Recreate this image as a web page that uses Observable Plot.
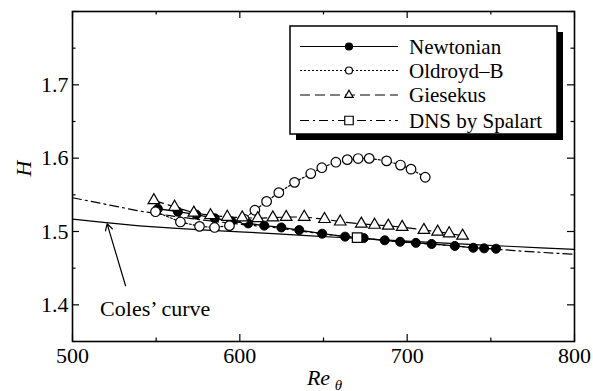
<!DOCTYPE html>
<html><head><meta charset="utf-8">
<script src="https://cdn.jsdelivr.net/npm/d3@7"></script>
<script src="https://cdn.jsdelivr.net/npm/@observablehq/plot@0.6"></script>
<style>body{margin:0;background:#fff}</style>
</head><body><div id="chart"></div>
<script>
// ---- data ----
const newtonianRe = [551, 563, 574, 585, 595, 605, 614.6, 624.8, 635.5, 649.2, 662.9, 674, 686.6, 695.8, 705.2, 714.6, 728.5, 739.5, 746, 753.1];
const newtonianH  = [1.531, 1.527, 1.523, 1.518, 1.514, 1.511, 1.508, 1.5055, 1.502, 1.497, 1.493, 1.491, 1.488, 1.486, 1.4845, 1.483, 1.4803, 1.4778, 1.477, 1.4765];

const oldroydRe = [549.6, 564.5, 575.9, 584.9, 593.8, 602.5, 609, 616, 623.3, 632.7, 642.4, 649, 657.4, 664.2, 670.7, 677.3, 687.7, 696, 702.3, 710.8];
const oldroydH  = [1.527, 1.513, 1.507, 1.5055, 1.508, 1.517, 1.529, 1.541, 1.553, 1.567, 1.579, 1.587, 1.5945, 1.598, 1.5995, 1.5997, 1.5963, 1.5906, 1.585, 1.574];

const giesekusRe = [548.6, 561, 572.5, 582.5, 592.5, 601.4, 610.7, 619.7, 627.7, 638.5, 650.6, 660, 672.6, 680.5, 688.7, 697, 710, 718.2, 725.1, 733.1];
const giesekusH  = [1.5425, 1.5335, 1.5255, 1.522, 1.5198, 1.519, 1.518, 1.519, 1.5197, 1.5198, 1.5168, 1.5134, 1.5105, 1.509, 1.5078, 1.506, 1.502, 1.4996, 1.4973, 1.4941];

const dnsRe = [500, 520, 540, 560, 580, 600, 620, 640, 660, 670, 690, 710, 730, 750, 770, 800];
const dnsH  = [1.546, 1.537, 1.528, 1.521, 1.515, 1.510, 1.5055, 1.4995, 1.494, 1.4915, 1.487, 1.4835, 1.480, 1.4765, 1.473, 1.4688];
const dnsMarkerRe = [670.1];
const dnsMarkerH  = [1.4917];

const colesRe = [500, 520, 540, 560, 580, 600, 620, 640, 660, 680, 700, 720, 740, 760, 780, 800];
const colesH  = [1.5168, 1.512, 1.5078, 1.5045, 1.502, 1.4996, 1.497, 1.4944, 1.4918, 1.4894, 1.487, 1.4846, 1.4822, 1.4799, 1.4777, 1.4755];

const colesArrow = [{x1: 531.7, y1: 1.426, x2: 520.7, y2: 1.5105}];
const colesLabel = [{x: 516.5, y: 1.395, text: "Coles\u2019 curve"}];

const xMajor = [500, 600, 700, 800];
const xMinor = [550, 650, 750];
const yMajor = [1.4, 1.5, 1.6, 1.7, 1.8];
const yLabels = [1.4, 1.5, 1.6, 1.7];
const yMinor = [1.45, 1.55, 1.65, 1.75];

const seriesNames = ["Newtonian", "Oldroyd\u2013B", "Giesekus", "DNS by Spalart"];

// ---- build ----
const rows = (xs, ys) => xs.map((x, i) => ({x, y: ys[i]}));
const newtonian = rows(newtonianRe, newtonianH);
const oldroyd = rows(oldroydRe, oldroydH);
const giesekus = rows(giesekusRe, giesekusH);
const dns = rows(dnsRe, dnsH);
const dnsMarker = rows(dnsMarkerRe, dnsMarkerH);
const coles = rows(colesRe, colesH);

const W = 593, H = 391, mT = 11, mB = 50, mL = 72, mR = 19;
const innerH = H - mT - mB, innerW = W - mL - mR;
const FONT = "'Liberation Serif', 'Times New Roman', Times, serif";

const dashes = {
  newtonian: null,
  oldroyd: "2,2",
  giesekus: "10,5",
  dns: "9,4,2,4"
};

const svg = Plot.plot({
  width: W, height: H,
  marginTop: mT, marginBottom: mB, marginLeft: mL, marginRight: mR,
  style: {fontFamily: FONT, fontSize: "22px", background: "white", color: "black", overflow: "visible"},
  x: {domain: [500, 800]},
  y: {domain: [1.35, 1.8]},
  marks: [
    Plot.line(coles, {x: "x", y: "y", stroke: "black", strokeWidth: 1.2}),
    Plot.line(dns, {x: "x", y: "y", stroke: "black", strokeWidth: 1.2, strokeDasharray: dashes.dns}),
    Plot.line(newtonian, {x: "x", y: "y", stroke: "black", strokeWidth: 1.3}),
    Plot.line(oldroyd, {x: "x", y: "y", stroke: "black", strokeWidth: 1.2, strokeDasharray: dashes.oldroyd}),
    Plot.line(giesekus, {x: "x", y: "y", stroke: "black", strokeWidth: 1.2, strokeDasharray: dashes.giesekus}),
    Plot.dot(newtonian, {x: "x", y: "y", r: 4.5, fill: "black", stroke: "black", strokeWidth: 1}),
    Plot.dot(oldroyd, {x: "x", y: "y", r: 4.8, fill: "white", stroke: "black", strokeWidth: 1.2}),
    Plot.dot(giesekus, {x: "x", y: "y", symbol: "triangle", r: 4.3, fill: "white", stroke: "black", strokeWidth: 1.2}),
    Plot.dot(dnsMarker, {x: "x", y: "y", symbol: "square", r: 5.4, fill: "white", stroke: "black", strokeWidth: 1.2}),
    Plot.arrow(colesArrow, {x1: "x1", y1: "y1", x2: "x2", y2: "y2", stroke: "black", strokeWidth: 1.2, headLength: 9}),
    Plot.text(colesLabel, {x: "x", y: "y", text: "text", textAnchor: "start", fill: "black"}),
    // inward ticks
    Plot.ruleX(xMajor, {insetTop: innerH - 7, stroke: "black", strokeWidth: 1.2}),
    Plot.ruleX(xMajor, {insetBottom: innerH - 7, stroke: "black", strokeWidth: 1.2}),
    Plot.ruleX(xMinor, {insetTop: innerH - 3.5, stroke: "black", strokeWidth: 1.2}),
    Plot.ruleX(xMinor, {insetBottom: innerH - 3.5, stroke: "black", strokeWidth: 1.2}),
    Plot.ruleY(yMajor, {insetRight: innerW - 7, stroke: "black", strokeWidth: 1.2}),
    Plot.ruleY(yMajor, {insetLeft: innerW - 7, stroke: "black", strokeWidth: 1.2}),
    Plot.ruleY(yMinor, {insetRight: innerW - 3.5, stroke: "black", strokeWidth: 1.2}),
    Plot.ruleY(yMinor, {insetLeft: innerW - 3.5, stroke: "black", strokeWidth: 1.2}),
    Plot.frame({stroke: "black", strokeWidth: 1.6}),
    Plot.axisX({ticks: xMajor, tickSize: 0, tickPadding: 6, label: null, tickFormat: d => String(d)}),
    Plot.axisY({ticks: yLabels, tickSize: 0, tickPadding: 4, label: null, tickFormat: d => d.toFixed(1)}),
    Plot.text(["H"], {frameAnchor: "left", text: d => d, dx: -49, rotate: -90, fontStyle: "italic", fill: "black"}),
    Plot.text(["Re"], {frameAnchor: "bottom", text: d => d, dx: -5, dy: 43, fontStyle: "italic", fill: "black"}),
    Plot.text(["\u03b8"], {frameAnchor: "bottom", text: d => d, dx: 15, dy: 48, fontStyle: "italic", fontSize: 15, fill: "black"})
  ]
});

// ---- legend ----
const lg = d3.select(svg).append("g").attr("font-family", FONT).attr("font-size", 21).attr("text-anchor", "start");
const bx = 290, by = 26, bw = 267, bh = 108;
lg.append("rect").attr("x", bx + 6).attr("y", by + 6).attr("width", bw).attr("height", bh).attr("fill", "black");
lg.append("rect").attr("x", bx).attr("y", by).attr("width", bw).attr("height", bh).attr("fill", "white").attr("stroke", "black").attr("stroke-width", 1.5);
const rowY = [46.5, 70.5, 95, 120.5];
const legendDash = [dashes.newtonian, dashes.oldroyd, dashes.giesekus, dashes.dns];
const legendSym = [
  {type: d3.symbolCircle, size: Math.PI * 3.5 * 3.5, fill: "black"},
  {type: d3.symbolCircle, size: Math.PI * 3.5 * 3.5, fill: "white"},
  {type: d3.symbolTriangle, size: 30, fill: "white"},
  {type: d3.symbolSquare, size: 72, fill: "white"}
];
seriesNames.forEach((name, i) => {
  const y = rowY[i];
  const ln = lg.append("line").attr("x1", 300).attr("x2", 398).attr("y1", y).attr("y2", y)
    .attr("stroke", "black").attr("stroke-width", 1.2);
  if (legendDash[i]) ln.attr("stroke-dasharray", legendDash[i]);
  lg.append("path").attr("transform", `translate(349,${y})`)
    .attr("d", d3.symbol(legendSym[i].type, legendSym[i].size)())
    .attr("fill", legendSym[i].fill).attr("stroke", "black").attr("stroke-width", 1.2);
  lg.append("text").attr("x", 409).attr("y", y).attr("dy", "0.35em").attr("text-anchor", "start").attr("fill", "black").text(name);
});

document.getElementById("chart").appendChild(svg);
</script>
</body></html>
